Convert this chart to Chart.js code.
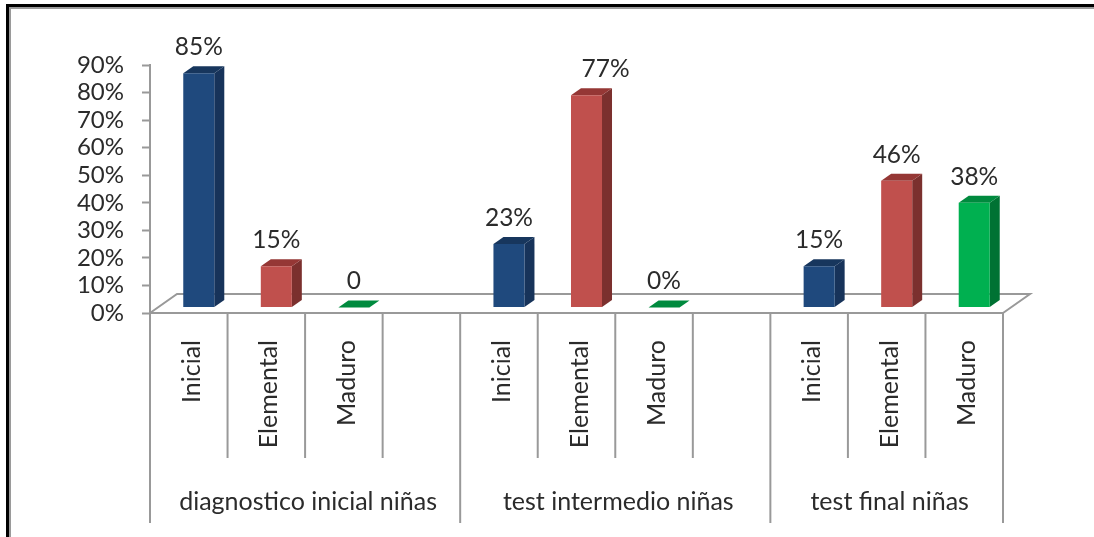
<!DOCTYPE html>
<html><head><meta charset="utf-8">
<style>
html,body{margin:0;padding:0;background:#fff;width:1094px;height:537px;overflow:hidden}
#wrap{position:absolute;left:0;top:0;width:1094px;height:537px}
#f1{position:absolute;left:6px;top:4px;right:0;bottom:0;border-left:3px solid #000;border-top:3px solid #000}
#f2{position:absolute;left:0;top:0;right:0;bottom:0;border-left:2px solid #9a9a9a;border-top:2px solid #9a9a9a}
canvas{position:absolute;left:0;top:0}
</style>
<script src="https://cdn.jsdelivr.net/npm/chart.js@4"></script>
</head><body>
<div id="wrap"><div id="f1"><div id="f2"></div></div><canvas id="c" width="1094" height="537"></canvas></div>
<script>
const categories = ["Inicial","Elemental","Maduro","","Inicial","Elemental","Maduro","","Inicial","Elemental","Maduro"];
const values = [85,15,0,null,23,77,0,null,15,46,38];
const valueLabels = ["85%","15%","0","","23%","77%","0%","","15%","46%","38%"];
const groupNames = ["diagnostico inicial niñas","test intermedio niñas","test final niñas"];
const groupStarts = [0,4,8];
const groupEnds = [4,8,11];
const levelIndex = [0,1,2,null,0,1,2,null,0,1,2];
const yTicksMax = 90;
const FONT = 'Lato, Carlito, sans-serif';
const TEXT = '#2b2b2b', LINE = '#999999';
const FRONT = ['#1F497D','#C0504D','#00B050'];
const SIDE  = ['#17335A','#7B302E','#007233'];
const TOP   = ['#17365D','#953735','#008A3E'];
const SHIFT = {x:10,y:-5.5}, DEPTH = {x:10,y:-7}, FLOOR = {x:27,y:-19};
const labelNudge = {5:19};

const faces3d = {
  id:'faces3d',
  beforeDatasetsDraw(chart){
    const {ctx,scales:{x}} = chart, y0 = x.top;
    ctx.save();
    ctx.strokeStyle = LINE; ctx.lineWidth = 2;
    ctx.beginPath();
    ctx.moveTo(x.left,y0);
    ctx.lineTo(x.left+FLOOR.x,y0+FLOOR.y);
    ctx.lineTo(x.right+FLOOR.x,y0+FLOOR.y);
    ctx.lineTo(x.right,y0);
    ctx.stroke();
    ctx.restore();
    ctx.save();
    ctx.translate(SHIFT.x,SHIFT.y);
    chart.getDatasetMeta(0).data.forEach((b,i)=>{
      if(values[i]===null) return;
      const p = b.getProps(['x','y','base','width'],true);
      const l = p.x-p.width/2, r = p.x+p.width/2, k = levelIndex[i];
      ctx.fillStyle = SIDE[k];
      ctx.beginPath();
      ctx.moveTo(r,p.y); ctx.lineTo(r+DEPTH.x,p.y+DEPTH.y);
      ctx.lineTo(r+DEPTH.x,p.base+DEPTH.y); ctx.lineTo(r,p.base);
      ctx.closePath(); ctx.fill();
      ctx.fillStyle = TOP[k];
      ctx.beginPath();
      ctx.moveTo(l,p.y); ctx.lineTo(l+DEPTH.x,p.y+DEPTH.y);
      ctx.lineTo(r+DEPTH.x,p.y+DEPTH.y); ctx.lineTo(r,p.y);
      ctx.closePath(); ctx.fill();
    });
  },
  afterDatasetsDraw(chart){
    const {ctx,scales:{x}} = chart;
    ctx.restore();
    ctx.save();
    ctx.font = '24.5px '+FONT; ctx.fillStyle = TEXT;
    ctx.textAlign = 'center'; ctx.textBaseline = 'middle';
    chart.getDatasetMeta(0).data.forEach((b,i)=>{
      if(!valueLabels[i]) return;
      const p = b.getProps(['x','y'],true);
      ctx.fillText(valueLabels[i], p.x+SHIFT.x+(labelNudge[i]||0), p.y+SHIFT.y-26);
    });
    ctx.restore();
    const slot = (x.right-x.left)/categories.length, y0 = x.top;
    ctx.save();
    ctx.strokeStyle = LINE; ctx.lineWidth = 2;
    for(let i=0;i<=categories.length;i++){
      const px = x.left+i*slot;
      const major = groupStarts.includes(i)||i===categories.length;
      ctx.beginPath(); ctx.moveTo(px,y0); ctx.lineTo(px,y0+(major?210:145)); ctx.stroke();
    }
    ctx.font = '25px '+FONT; ctx.fillStyle = TEXT;
    ctx.textAlign = 'center'; ctx.textBaseline = 'middle';
    groupNames.forEach((g,i)=>{
      const c = x.left+slot*(groupStarts[i]+groupEnds[i])/2+3;
      ctx.fillText(g,c,y0+189);
    });
    ctx.restore();
  }
};

new Chart(document.getElementById('c'),{
  type:'bar',
  data:{labels:categories,datasets:[{
    data:values,
    backgroundColor:levelIndex.map(k=>k===null?'transparent':FRONT[k]),
    barPercentage:0.4,categoryPercentage:1,borderWidth:0
  }]},
  plugins:[faces3d],
  options:{
    responsive:false,animation:false,
    layout:{padding:{left:0,right:91,top:65,bottom:0}},
    plugins:{legend:{display:false},tooltip:{enabled:false},title:{display:false}},
    scales:{
      x:{
        type:'category',
        afterFit(s){s.height=224;},
        grid:{display:false,drawTicks:false},
        border:{display:true,color:LINE,width:2},
        ticks:{autoSkip:false,minRotation:90,maxRotation:90,padding:27,labelOffset:3,color:TEXT,font:{family:FONT,size:25}}
      },
      y:{
        min:0,max:yTicksMax,
        afterFit(s){s.width=150;},
        grid:{drawOnChartArea:false,drawTicks:true,tickLength:8,tickColor:LINE,tickWidth:2},
        border:{display:true,color:LINE,width:2},
        ticks:{stepSize:10,autoSkip:false,padding:18,color:TEXT,font:{family:FONT,size:24},callback:v=>v+'%'}
      }
    }
  }
});
</script>
</body></html>
